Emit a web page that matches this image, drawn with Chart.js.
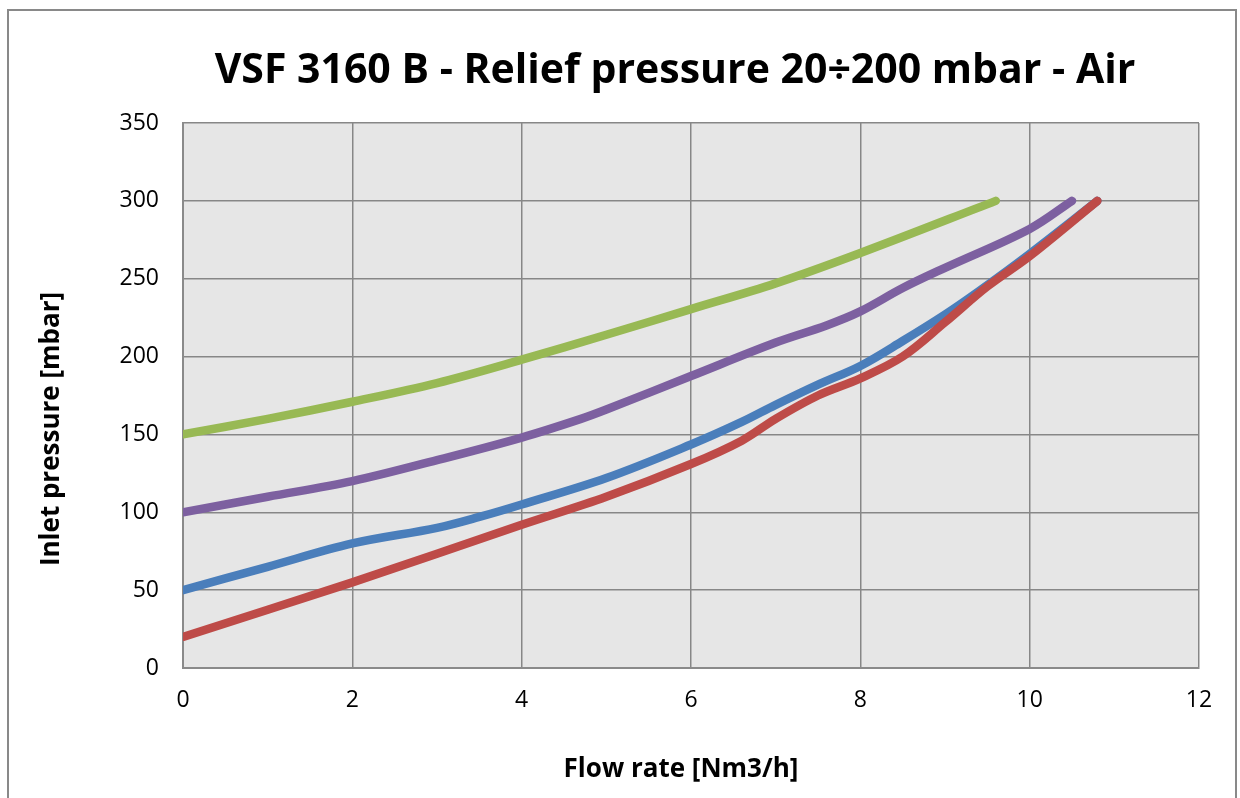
<!DOCTYPE html>
<html>
<head>
<meta charset="utf-8">
<script src="https://cdn.jsdelivr.net/npm/chart.js@4.4.0/dist/chart.umd.min.js"></script>
<style>
  html, body { margin: 0; padding: 0; background: #fff; }
  #wrap { position: relative; width: 1240px; height: 798px; overflow: hidden; }
  #frame { position: absolute; left: 7px; top: 9px; width: 1230px; height: 820px; border: 2px solid #898989; box-sizing: border-box; }
  canvas { position: absolute; left: 0; top: 0; }
</style>
</head>
<body>
<div id="wrap">
  <div id="frame"></div>
  <canvas id="myChart" width="1240" height="798"></canvas>
</div>
<script>
'use strict';

let chartTitle = 'VSF 3160 B - Relief pressure 20÷200 mbar - Air';
let xTitle = 'Flow rate [Nm3/h]';
let yTitle = 'Inlet pressure [mbar]';

// flow rate [Nm3/h] / inlet pressure [mbar] for each curve
let redX = [0, 2, 4, 5, 6, 6.6, 7, 7.5, 8, 8.5, 9, 9.5, 10, 10.8];
let redY = [20, 55, 92, 110, 131, 146, 160, 175, 186, 200, 222, 245, 264.5, 300];

let blueX = [0, 1, 2, 3, 3.5, 4, 5, 6, 6.6, 7, 7.5, 8, 8.5, 9, 9.4, 10, 10.8];
let blueY = [50, 65, 80, 90, 97, 105, 122, 143.5, 158, 169, 182, 194, 210, 227, 242, 266, 300];

let greenX = [0, 1, 2, 3, 4, 5, 6, 7, 8, 9.6];
let greenY = [150, 160, 171, 183, 198, 214, 230.5, 247, 266.5, 300];

let purpleX = [0, 1, 2, 3, 4, 4.7, 5, 6, 7, 7.6, 8, 8.5, 9, 10, 10.5];
let purpleY = [100, 110, 120, 133.5, 148, 160, 166, 187.5, 209, 220, 229, 244, 257, 282, 300];

let xTicks = [0, 2, 4, 6, 8, 10, 12];
let yTicks = [0, 50, 100, 150, 200, 250, 300, 350];

function toPoints(xs, ys) {
    let pts = [];
    for (let i = 0; i < xs.length; i++) {
        pts.push({ x: xs[i], y: ys[i] });
    }
    return pts;
}

function makeLine(xs, ys, color) {
    return {
        data: toPoints(xs, ys),
        borderColor: color,
        backgroundColor: color,
        borderWidth: 8.5,
        borderCapStyle: 'round',
        borderJoinStyle: 'round',
        pointRadius: 0,
        pointHoverRadius: 0,
        showLine: true,
        fill: false,
        tension: 0.35
    };
}

// grey plot background
let plotBg = {
    id: 'plotBg',
    beforeDraw(chart) {
        let a = chart.chartArea;
        let ctx = chart.ctx;
        ctx.save();
        ctx.fillStyle = '#e6e6e6';
        ctx.fillRect(a.left, a.top, a.right - a.left, a.bottom - a.top);
        ctx.restore();
    }
};

// titles placed like the original sheet
let titles = {
    id: 'titles',
    afterDraw(chart) {
        let ctx = chart.ctx;
        ctx.save();
        ctx.fillStyle = '#000';
        ctx.textAlign = 'center';
        ctx.textBaseline = 'middle';
        ctx.font = 'bold 41px "Open Sans"';
        ctx.fillText(chartTitle, 675, 71);
        ctx.font = 'bold 26px "Open Sans"';
        ctx.fillText(xTitle, 681, 770);
        ctx.translate(52, 429);
        ctx.rotate(-Math.PI / 2);
        ctx.fillText(yTitle, 0, 0);
        ctx.restore();
    }
};

let ctx = document.getElementById('myChart').getContext('2d');
let myChart = new Chart(ctx, {
    type: 'scatter',
    data: {
        datasets: [
            makeLine(redX, redY, '#be4b48'),
            makeLine(blueX, blueY, '#4a7ebb'),
            makeLine(purpleX, purpleY, '#7d60a0'),
            makeLine(greenX, greenY, '#98b954')
        ]
    },
    options: {
        responsive: false,
        animation: false,
        layout: { padding: { left: 0, right: 41, top: 123, bottom: 0 } },
        plugins: {
            legend: { display: false },
            tooltip: { enabled: false }
        },
        scales: {
            x: {
                type: 'linear',
                min: 0,
                max: 12,
                afterBuildTicks(scale) {
                    scale.ticks = xTicks.map(v => ({ value: v }));
                },
                afterFit(scale) { scale.height = 798 - 668; },
                ticks: {
                    color: '#000',
                    padding: 19,
                    font: { family: '"Open Sans"', size: 23 }
                },
                grid: { color: '#878787', lineWidth: 1.5, drawTicks: false },
                border: { color: '#8a8a8a', width: 2 }
            },
            y: {
                type: 'linear',
                min: 0,
                max: 350,
                afterBuildTicks(scale) {
                    scale.ticks = yTicks.map(v => ({ value: v }));
                },
                afterFit(scale) { scale.width = 183; },
                ticks: {
                    color: '#000',
                    padding: 24,
                    font: { family: '"Open Sans"', size: 23 }
                },
                grid: { color: '#878787', lineWidth: 1.5, drawTicks: false },
                border: { color: '#8a8a8a', width: 2 }
            }
        }
    },
    plugins: [plotBg, titles]
});
</script>
</body>
</html>
